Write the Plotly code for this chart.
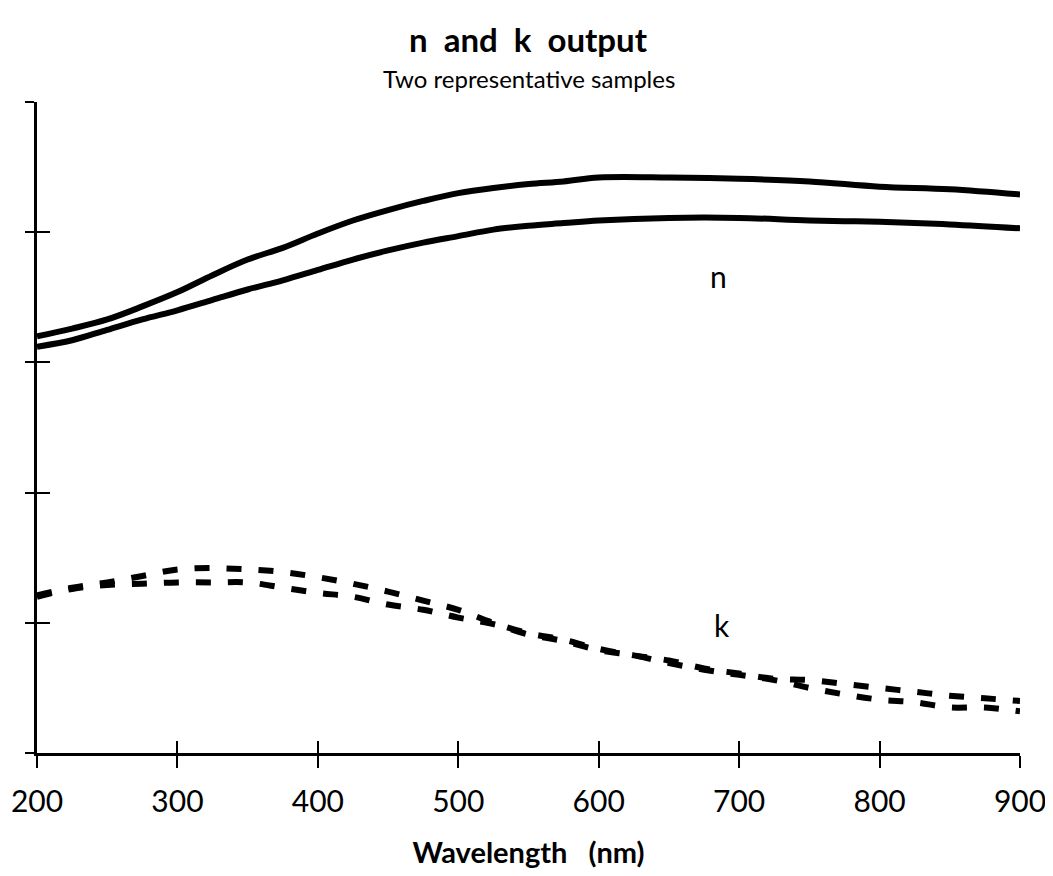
import plotly.graph_objects as go

wavelength = [200, 225, 250, 275, 300, 325, 350, 375, 400, 425, 450, 475, 500,
              525, 550, 575, 600, 650, 700, 750, 800, 850, 900]
n_sample1 = [3.20, 3.26, 3.33, 3.43, 3.54, 3.67, 3.79, 3.88, 3.99, 4.09, 4.17, 4.24, 4.30,
             4.34, 4.37, 4.39, 4.42, 4.42, 4.41, 4.39, 4.35, 4.33, 4.29]
n_sample2 = [3.12, 3.17, 3.25, 3.33, 3.40, 3.48, 3.56, 3.63, 3.71, 3.79, 3.86, 3.92, 3.97,
             4.02, 4.05, 4.07, 4.09, 4.11, 4.11, 4.09, 4.08, 4.06, 4.03]

wavelength_k = [200, 225, 250, 275, 300, 325, 350, 375, 400, 425, 450, 475, 500, 525, 550,
                575, 600, 625, 650, 675, 700, 725, 750, 775, 800, 825, 850, 875, 900]
k_sample1 = [1.21, 1.27, 1.31, 1.36, 1.41, 1.42, 1.41, 1.39, 1.35, 1.30, 1.24, 1.17, 1.10,
             1.00, 0.92, 0.87, 0.80, 0.75, 0.71, 0.65, 0.61, 0.57, 0.56, 0.53, 0.50, 0.47,
             0.44, 0.42, 0.40]
k_sample2 = [1.20, 1.26, 1.29, 1.30, 1.31, 1.31, 1.31, 1.27, 1.23, 1.20, 1.14, 1.10, 1.04,
             0.99, 0.91, 0.86, 0.79, 0.75, 0.69, 0.64, 0.60, 0.56, 0.50, 0.45, 0.41, 0.39,
             0.35, 0.35, 0.32]

x_ticks = [200, 300, 400, 500, 600, 700, 800, 900]
y_ticks = [0, 1, 2, 3, 4, 5]
x_range = [200, 900]
y_range = [0, 5]

FONT = "Lato, Open Sans, DejaVu Sans"

fig = go.Figure()
for ys in (n_sample1, n_sample2):
    fig.add_trace(go.Scatter(x=wavelength, y=ys, mode="lines",
                             line=dict(color="black", width=6, shape="spline"),
                             showlegend=False, hoverinfo="skip"))
for ys in (k_sample1, k_sample2):
    fig.add_trace(go.Scatter(x=wavelength_k, y=ys, mode="lines", xaxis="x2", yaxis="y2",
                             line=dict(color="black", width=6, dash="15px,17px", shape="spline"),
                             showlegend=False, hoverinfo="skip"))

fig.update_layout(
    width=1045, height=868,
    margin=dict(l=29, r=33, t=94, b=123),
    paper_bgcolor="white", plot_bgcolor="white",
    font=dict(family=FONT, color="black"),
    xaxis=dict(range=x_range, tickvals=x_ticks, ticks="outside", ticklen=12, tickwidth=2,
               tickcolor="black", showline=True, linecolor="black", linewidth=3,
               showgrid=False, zeroline=False, tickfont=dict(size=30), ticklabelstandoff=8,
               automargin=False,
               title=dict(text="<b>Wavelength   (nm)</b>", font=dict(size=29), standoff=26)),
    yaxis=dict(range=y_range, tickvals=y_ticks, ticks="outside", ticklen=9, tickwidth=2,
               tickcolor="black", showline=True, linecolor="black", linewidth=3,
               showgrid=False, zeroline=False, showticklabels=False, automargin=False),
    xaxis2=dict(range=x_range, tickvals=x_ticks, ticks="inside", ticklen=12, tickwidth=2,
                tickcolor="black", overlaying="x", showgrid=False, zeroline=False,
                showticklabels=False, anchor="y2", automargin=False),
    yaxis2=dict(range=y_range, tickvals=y_ticks, ticks="inside", ticklen=13, tickwidth=2,
                tickcolor="black", overlaying="y", showgrid=False, zeroline=False,
                showticklabels=False, anchor="x2", automargin=False),
    annotations=[
        dict(text="<b>n  and  k  output</b>", xref="paper", yref="paper", x=0.5, y=1.097,
             showarrow=False, font=dict(size=33), xanchor="center", yanchor="middle"),
        dict(text="Two representative samples", xref="paper", yref="paper", x=0.5, y=1.036,
             showarrow=False, font=dict(size=24), xanchor="center", yanchor="middle"),
        dict(text="n", x=685, y=3.66, xref="x", yref="y", showarrow=False, font=dict(size=30)),
        dict(text="k", x=688, y=0.98, xref="x", yref="y", showarrow=False, font=dict(size=30)),
    ],
)

fig.write_html("out.html")
